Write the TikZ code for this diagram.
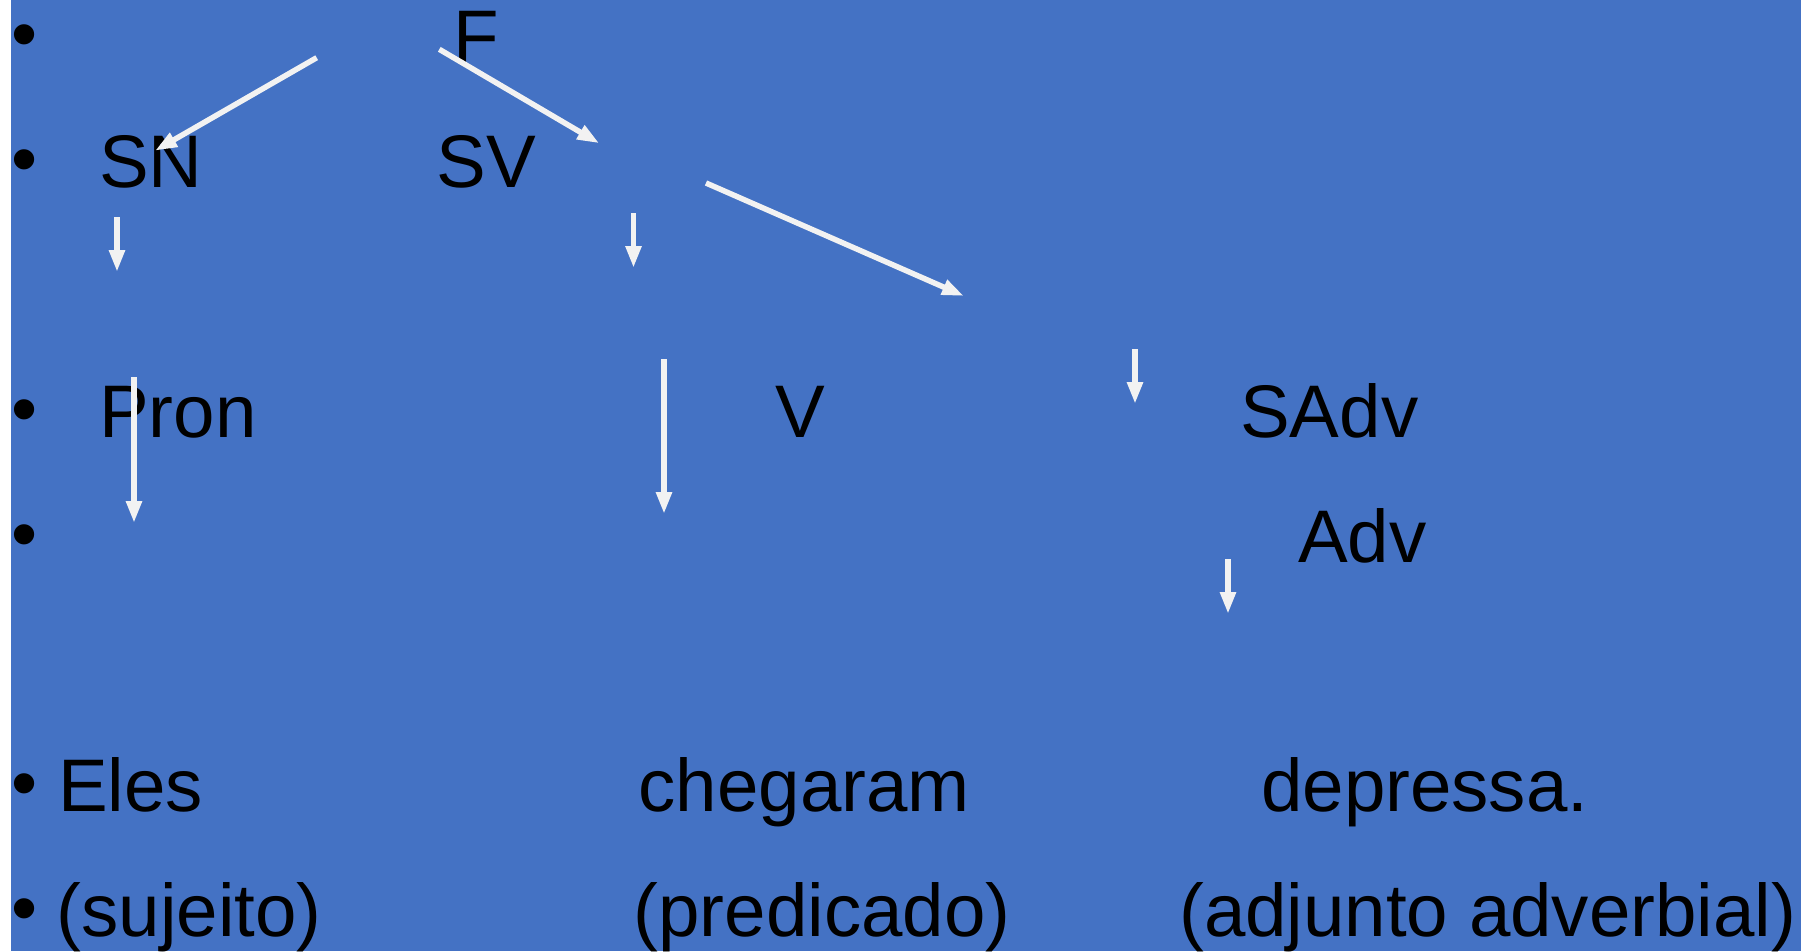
\documentclass[tikz,border=0pt]{standalone}
\usepackage{fontspec}
\setmainfont{Liberation Sans}
\usetikzlibrary{arrows.meta}
\definecolor{slideblue}{RGB}{68,114,196}
\definecolor{arrowwhite}{RGB}{242,242,242}

\begin{document}
\begin{tikzpicture}[x=1pt, y=-1pt, every node/.style={font=\fontsize{74.5}{89}\selectfont, inner sep=0pt, anchor=base west}]
  \tikzstyle{link}=[draw=arrowwhite, line width=5.5pt, -{Triangle[length=22pt, width=15pt]}]
  \useasboundingbox (0,0) rectangle (1801,951);
  \fill[slideblue] (11,0) rectangle (1801,951);
  \foreach \row/\yb in {0/59.5, 1/184, 3/434, 4/559, 6/808.5, 7/933}
    \node (bul\row) at (11,\yb) {•};
  \node (f) at (453.5,62.5) {F};
  \node (sn) at (99,187) {SN};
  \node (sv) at (436.5,187) {SV};
  \node (pron) at (99,437) {Pron};
  \node (v) at (775.5,437) {V};
  \node (sadv) at (1240,437) {SAdv};
  \node (adv) at (1298,562) {Adv};
  \node (eles) at (58,811.5) {Eles};
  \node (chegaram) at (638.5,811.5) {chegaram};
  \node (depressa) at (1261,811.5) {depressa.};
  \node (sujeito) at (56.5,936) {(sujeito)};
  \node (predicado) at (633.5,936) {(predicado)};
  \node (adjunto) at (1179,936) {(adjunto adverbial)};
  \foreach \name/\xa/\ya/\xb/\yb in {fsn/316.7/57.7/155/150.7, fsv/439.3/49.3/599.3/143.3,
      snpron/117/217/117/272, svv/633.5/213/633.5/268, svsadv/706/183/964/296,
      proneles/134/377/134/523, vchegaram/664/359/664/514, sadvadv/1135/349/1135/404,
      advdepressa/1228/559/1228/614} {
    \coordinate (\name-s) at (\xa,\ya);
    \coordinate (\name-e) at (\xb,\yb);
    \draw[link] (\name-s) -- (\name-e);
  }
\end{tikzpicture}
\end{document}
